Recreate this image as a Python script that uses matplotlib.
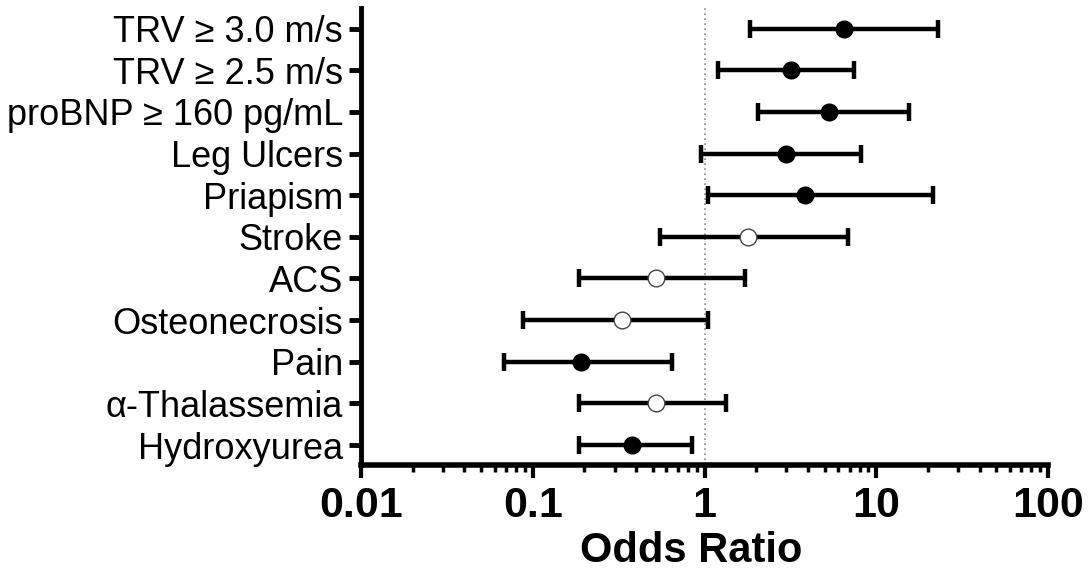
import matplotlib
matplotlib.use("Agg")
import matplotlib.pyplot as plt
import numpy as np
from matplotlib.ticker import LogLocator, FixedLocator, NullFormatter

# odds ratios with 95% CI, listed bottom to top
labels = [
    "Hydroxyurea",
    "\u03b1-Thalassemia",
    "Pain",
    "Osteonecrosis",
    "ACS",
    "Stroke",
    "Priapism",
    "Leg Ulcers",
    "proBNP \u2265 160 pg/mL",
    "TRV \u2265 2.5 m/s",
    "TRV \u2265 3.0 m/s",
]
odds = [0.38, 0.525, 0.19, 0.33, 0.525, 1.78, 3.85, 2.97, 5.3, 3.17, 6.5]
ci_low = [0.187, 0.187, 0.068, 0.088, 0.187, 0.547, 1.05, 0.95, 2.06, 1.19, 1.83]
ci_high = [0.84, 1.34, 0.65, 1.05, 1.71, 6.8, 21.5, 8.2, 15.5, 7.4, 22.9]
significant = [True, False, True, False, False, False, True, True, True, True, True]

plt.rcParams["font.family"] = ["Liberation Sans", "DejaVu Sans"]

fig = plt.figure(figsize=(10.89, 5.75), dpi=100)
ax = fig.add_axes([0.3315, 0.1913, 0.6309, 0.795])

ypos = np.arange(len(labels))
odds = np.array(odds)
err = np.array([odds - np.array(ci_low), np.array(ci_high) - odds])

ax.axvline(1, color="#888888", lw=1.2, ls=(0, (1, 2)), zorder=1)

ax.errorbar(odds, ypos, xerr=err, fmt="none", ecolor="black",
            elinewidth=3.2, capsize=6.5, capthick=3.2, zorder=2)

for x, y, sig in zip(odds, ypos, significant):
    ax.plot(x, y, "o", ms=12,
            mfc="black" if sig else "white",
            mec="black" if sig else "#444444",
            mew=1.0, zorder=3)

ax.set_xscale("log")
ax.set_xlim(0.01, 100)
ax.set_ylim(-0.48, 10.5)

ax.xaxis.set_major_locator(FixedLocator([0.01, 0.1, 1, 10, 100]))
ax.set_xticklabels(["0.01", "0.1", "1", "10", "100"],
                   fontsize=31, fontweight="bold")
ax.xaxis.set_minor_locator(LogLocator(base=10, subs=np.arange(2, 10)))
ax.xaxis.set_minor_formatter(NullFormatter())

ax.set_yticks(ypos)
ax.set_yticklabels(labels, fontsize=26)

ax.tick_params(axis="x", which="major", direction="out", length=9,
               width=3, pad=6)
ax.tick_params(axis="x", which="minor", direction="out", length=5,
               width=2.5)
ax.tick_params(axis="y", direction="out", length=9, width=3.5, pad=4)

ax.set_xlabel("Odds Ratio", fontsize=30, fontweight="bold")
ax.xaxis.set_label_coords(0.48, -0.145)

for side in ["top", "right"]:
    ax.spines[side].set_visible(False)
ax.spines["left"].set_linewidth(3.5)
ax.spines["bottom"].set_linewidth(4)

fig.savefig("out.png", dpi=100)
